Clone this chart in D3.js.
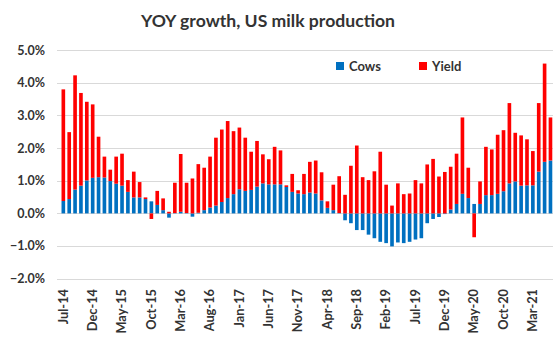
<!DOCTYPE html>
<html><head><meta charset="utf-8">
<script src="https://cdn.jsdelivr.net/npm/d3@7"></script>
<style>
body{margin:0;background:#fff;}
svg{display:block;font-family:Lato,"Open Sans",sans-serif;}
</style></head>
<body><svg id="chart" width="556" height="340"></svg>
<script>
const months = ["Jul-14","Aug-14","Sep-14","Oct-14","Nov-14","Dec-14","Jan-15","Feb-15","Mar-15","Apr-15","May-15","Jun-15",
"Jul-15","Aug-15","Sep-15","Oct-15","Nov-15","Dec-15","Jan-16","Feb-16","Mar-16","Apr-16","May-16","Jun-16",
"Jul-16","Aug-16","Sep-16","Oct-16","Nov-16","Dec-16","Jan-17","Feb-17","Mar-17","Apr-17","May-17","Jun-17",
"Jul-17","Aug-17","Sep-17","Oct-17","Nov-17","Dec-17","Jan-18","Feb-18","Mar-18","Apr-18","May-18","Jun-18",
"Jul-18","Aug-18","Sep-18","Oct-18","Nov-18","Dec-18","Jan-19","Feb-19","Mar-19","Apr-19","May-19","Jun-19",
"Jul-19","Aug-19","Sep-19","Oct-19","Nov-19","Dec-19","Jan-20","Feb-20","Mar-20","Apr-20","May-20","Jun-20",
"Jul-20","Aug-20","Sep-20","Oct-20","Nov-20","Dec-20","Jan-21","Feb-21","Mar-21","Apr-21","May-21","Jun-21"];
const cows = [0.38,0.44,0.73,0.85,1.01,1.09,1.11,1.10,0.99,0.91,0.85,0.66,
0.49,0.49,0.44,0.37,0.26,0.10,-0.13,0.01,0.05,0.01,-0.10,0.02,
0.10,0.18,0.24,0.35,0.47,0.59,0.74,0.69,0.72,0.82,0.92,0.89,
0.89,0.89,0.81,0.66,0.61,0.59,0.64,0.61,0.40,0.17,0.10,0.01,
-0.21,-0.30,-0.51,-0.51,-0.65,-0.76,-0.87,-0.91,-1.01,-0.89,-0.91,-0.87,
-0.80,-0.76,-0.30,-0.17,-0.11,-0.02,0.12,0.29,0.60,0.47,0.29,0.29,
0.56,0.56,0.60,0.68,0.92,0.98,0.85,0.86,0.86,1.28,1.58,1.62];
const yieldVals = [3.42,2.05,3.50,2.84,2.41,2.25,1.24,0.64,0.35,0.83,0.98,0.36,
0.79,0.47,0.05,-0.17,0.43,0.36,0.05,0.93,1.77,0.93,1.07,1.49,
1.30,1.56,2.08,2.22,2.36,1.93,1.89,1.63,1.17,1.40,0.89,0.77,
1.15,1.04,0.05,0.55,0.10,0.62,0.94,1.01,0.86,0.20,0.78,1.13,
0.57,1.46,2.08,1.11,1.02,1.29,1.89,0.88,0.24,0.92,0.59,0.61,
1.02,0.92,1.50,1.67,1.13,1.27,1.31,1.54,2.34,0.93,-0.73,0.69,
1.48,1.40,1.81,1.87,2.46,1.49,1.54,1.41,1.05,2.10,3.01,1.32];
const seriesNames = ["Cows","Yield"];
const colors = ["#0070C0","#FF0000"];
const yTicks = [-2,-1,0,1,2,3,4,5];
const xLabelEvery = 5;

const svg = d3.select("#chart");
const x = d3.scaleBand().domain(months).range([60.4, 553.4]).paddingInner(0.38).paddingOuter(0.19);
const y = d3.scaleLinear().domain([-2,5]).range([278.7, 50.2]);

const table = months.map((m,i)=>({month:m, Cows:cows[i], Yield:yieldVals[i]}));
const stacked = d3.stack().keys(seriesNames).offset(d3.stackOffsetDiverging)(table);

// gridlines
svg.append("g").selectAll("line").data(yTicks).join("line")
  .attr("x1",57).attr("x2",553)
  .attr("y1",d=>Math.round(y(d))+0.5).attr("y2",d=>Math.round(y(d))+0.5)
  .attr("stroke","#d9d9d9").attr("stroke-width",1.2);

// y labels
svg.append("g").selectAll("text").data(yTicks).join("text")
  .attr("x",45).attr("y",d=>y(d)).attr("dy","0.35em")
  .attr("text-anchor","end").attr("font-size",12.5).attr("font-weight","bold").attr("fill","#333")
  .text(d=>d3.format(".1f")(d)+"%");

// bars
svg.append("g").selectAll("g").data(stacked).join("g")
  .attr("fill",(d,i)=>colors[i])
  .selectAll("rect").data(d=>d).join("rect")
  .attr("x",d=>x(d.data.month)).attr("width",x.bandwidth())
  .attr("y",d=>y(Math.max(d[0],d[1])))
  .attr("height",d=>Math.abs(y(d[0])-y(d[1])));

// x labels
svg.append("g").selectAll("text").data(months.filter((m,i)=>i%xLabelEvery===0)).join("text")
  .attr("transform",d=>`translate(${x(d)+x.bandwidth()/2+4.2},289) rotate(-90)`)
  .attr("text-anchor","end").attr("font-size",12.8).attr("font-weight","bold").attr("fill","#333")
  .text(d=>d);

// title
svg.append("text").attr("x",268).attr("y",27).attr("text-anchor","middle")
  .attr("font-size",17.6).attr("font-weight","bold").attr("fill","#333")
  .text("YOY growth, US milk production");

// legend
const legX = [336, 419];
const lg = svg.append("g").selectAll("g").data(seriesNames).join("g")
  .attr("transform",(d,i)=>`translate(${legX[i]},62)`);
lg.append("rect").attr("width",8).attr("height",8).attr("fill",(d,i)=>colors[i]);
lg.append("text").attr("x",13).attr("y",4).attr("dy","0.36em")
  .attr("font-size",13).attr("font-weight","bold").attr("fill","#333").text(d=>d);
</script></body></html>
